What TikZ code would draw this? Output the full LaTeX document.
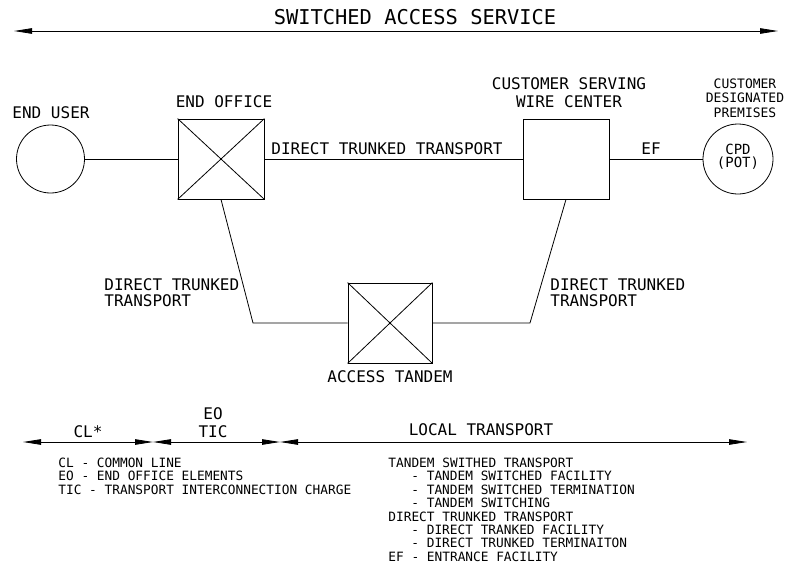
\documentclass[tikz,border=0pt]{standalone}
\usepackage{fontspec}
\setmonofont{DejaVu Sans Mono}
\usetikzlibrary{arrows.meta}
\begin{document}
\begin{tikzpicture}[x=1pt,y=-1pt, line width=0.8pt,
  lbl/.style={font=\ttfamily\fontsize{16}{16}\selectfont, inner sep=0pt},
  ttl/.style={font=\ttfamily\fontsize{20.4}{24}\selectfont, inner sep=0pt},
  sml/.style={font=\ttfamily\fontsize{13}{14.5}\selectfont, inner sep=0pt, align=center},
  leg/.style={font=\ttfamily\fontsize{12.8}{13.45}\selectfont, inner sep=0pt, align=left, anchor=north west},
  xbox/.style={draw, minimum width=86pt, minimum height=80pt, inner sep=0pt},
  dbl/.style={{Triangle[length=18pt,width=5.5pt]}-{Triangle[length=18pt,width=5.5pt]}}
]
\useasboundingbox (0,0) rectangle (788,563);

% title arrow
\node[ttl] (title) at (415,17) {SWITCHED ACCESS SERVICE};
\coordinate (tl) at (14,31);
\coordinate (tr) at (778,31);
\draw[dbl] (tl) -- (tr);

% top row
\node[draw, circle, minimum size=68pt, inner sep=0pt] (eu) at (50.5,159) {};
\node[lbl] (eul) at (51,113) {END USER};
\node[xbox] (eo) at (221,159) {};
\draw (eo.north west) -- (eo.south east) (eo.north east) -- (eo.south west);
\node[lbl] (eol) at (224,102) {END OFFICE};
\node[xbox] (cs) at (566,159) {};
\node[lbl, align=center, font=\ttfamily\fontsize{16}{18}\selectfont] (csl) at (569,93) {CUSTOMER SERVING\\WIRE CENTER};
\node[draw, circle, minimum size=70pt, inner sep=0pt] (cpd) at (738,159) {};
\node[sml, font=\ttfamily\fontsize{14}{13}\selectfont] (cpdt) at (738,156.5) {CPD\\(POT)};
\node[sml] (cdp) at (745,98) {CUSTOMER\\DESIGNATED\\PREMISES};

\draw (eu) -- (eo);
\draw (eo) -- (cs);
\draw (cs) -- (cpd);
\node[lbl] (dtt) at (387,149) {DIRECT TRUNKED TRANSPORT};
\node[lbl] (ef) at (651,149) {EF};

% tandem
\node[xbox, minimum width=84pt] (at) at (390,323) {};
\draw (at.north west) -- (at.south east) (at.north east) -- (at.south west);
\node[lbl] (atl) at (390,377) {ACCESS TANDEM};
\coordinate (bl) at (253,323);
\coordinate (br) at (530,323);
\draw (eo.south) -- (bl) -- (at.west);
\draw (cs.south) -- (br) -- (at.east);
\node[lbl, align=left, anchor=west] (dtl) at (104,293) {DIRECT TRUNKED\\TRANSPORT};
\node[lbl, align=left, anchor=west] (dtr) at (550,293) {DIRECT TRUNKED\\TRANSPORT};

% bottom arrows
\coordinate (b0) at (23,442);
\coordinate (b1) at (153,442);
\coordinate (b2) at (280,442);
\coordinate (b3) at (747,442);
\draw[dbl] (b0) -- (b1);
\draw[dbl] (b1) -- (b2);
\draw[dbl] (b2) -- (b3);
\node[lbl] (cl) at (88,432) {CL*};
\node[lbl, align=center, font=\ttfamily\fontsize{16}{18}\selectfont] (eotic) at (213,423) {EO\\TIC};
\node[lbl] (lt) at (481,430) {LOCAL TRANSPORT};

% legends
\node[leg] (legl) at (58,457.3) {CL - COMMON LINE\\EO - END OFFICE ELEMENTS\\TIC - TRANSPORT INTERCONNECTION CHARGE};
\node[leg] (legr) at (388,457.3) {TANDEM SWITHED TRANSPORT\\
\hspace*{23pt}- TANDEM SWITCHED FACILITY\\
\hspace*{23pt}- TANDEM SWITCHED TERMINATION\\
\hspace*{23pt}- TANDEM SWITCHING\\
DIRECT TRUNKED TRANSPORT\\
\hspace*{23pt}- DIRECT TRANKED FACILITY\\
\hspace*{23pt}- DIRECT TRUNKED TERMINAITON\\
EF - ENTRANCE FACILITY};
\end{tikzpicture}
\end{document}
